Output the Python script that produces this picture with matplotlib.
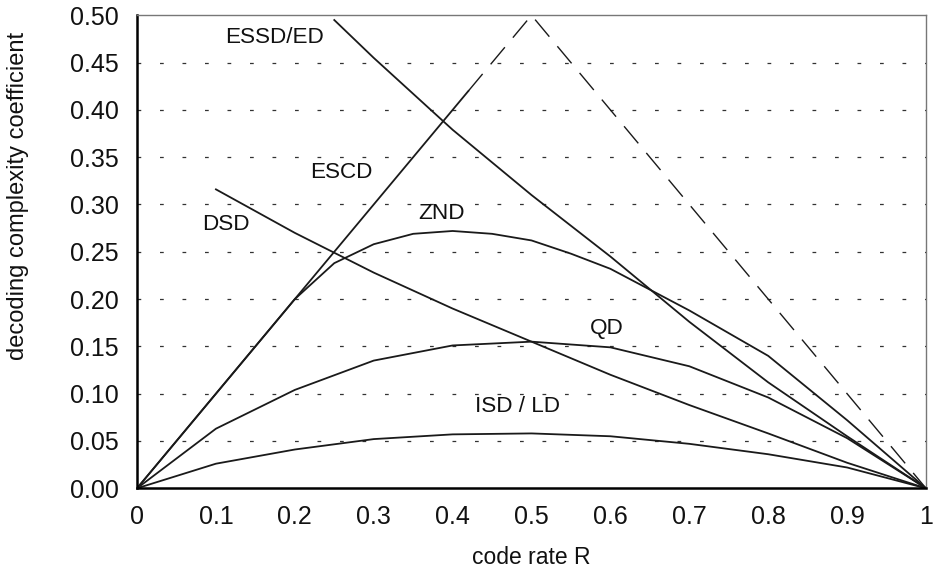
import matplotlib
matplotlib.use("Agg")
import matplotlib.pyplot as plt

# code rate R
rate = [0.0, 0.1, 0.2, 0.3, 0.4, 0.5, 0.6, 0.7, 0.8, 0.9, 1.0]

# decoding complexity coefficients
isd_ld = [0.0, 0.026, 0.041, 0.052, 0.057, 0.058, 0.055, 0.047, 0.036, 0.022, 0.0]
qd = [0.0, 0.063, 0.104, 0.135, 0.151, 0.155, 0.149, 0.129, 0.096, 0.053, 0.0]
dsd_x = [0.1, 0.2, 0.3, 0.4, 0.5, 0.6, 0.7, 0.8, 0.9, 1.0]
dsd = [0.316, 0.270, 0.228, 0.190, 0.155, 0.120, 0.088, 0.058, 0.027, 0.0]
znd_x = [0.0, 0.1, 0.2, 0.25, 0.3, 0.35, 0.4, 0.45, 0.5, 0.55, 0.6, 0.7, 0.8, 0.9, 1.0]
znd = [0.0, 0.1, 0.2, 0.238, 0.258, 0.269, 0.272, 0.269, 0.262, 0.248, 0.232, 0.188, 0.140, 0.072, 0.0]
essd_x = [0.25, 0.3, 0.4, 0.5, 0.6, 0.7, 0.8, 0.9, 1.0]
essd_ed = [0.495, 0.455, 0.379, 0.310, 0.245, 0.176, 0.112, 0.055, 0.0]
escd_x = [0.0, 0.42]
escd = [0.0, 0.42]
escd_ext_x = [0.42, 0.5, 1.0]
escd_ext = [0.42, 0.5, 0.0]

labels = ["ESSD/ED", "ESCD", "DSD", "ZND", "QD", "ISD / LD"]
label_x = [0.174, 0.259, 0.112, 0.386, 0.595, 0.482]
label_y = [0.477, 0.334, 0.279, 0.290, 0.169, 0.0865]

plt.rcParams['font.family'] = ['Liberation Sans', 'DejaVu Sans']

fig = plt.figure(figsize=(9.36, 5.75), dpi=100)
ax = fig.add_axes([0.1464, 0.1508, 0.8429, 0.8226])

lc = '#1a1a1a'
ax.plot(rate, isd_ld, color=lc, lw=1.3)
ax.plot(rate, qd, color=lc, lw=1.3)
ax.plot(dsd_x, dsd, color=lc, lw=1.3)
ax.plot(znd_x, znd, color=lc, lw=1.3)
ax.plot(essd_x, essd_ed, color=lc, lw=1.3)
ax.plot(escd_x, escd, color=lc, lw=1.3)
ax.plot(escd_ext_x, escd_ext, color=lc, lw=1.0, linestyle=(0, (16, 9)))

for t, x, y in zip(labels, label_x, label_y):
    ax.text(x, y, t, ha='center', va='center', fontsize=16.2, color='#111111')

ax.set_xlim(0, 1)
ax.set_ylim(0, 0.5)
ax.set_xticks(rate)
ax.set_xticklabels(['0', '0.1', '0.2', '0.3', '0.4', '0.5', '0.6', '0.7', '0.8', '0.9', '1'],
                   fontsize=18)
yt = [i * 0.05 for i in range(11)]
ax.set_yticks(yt)
ax.set_yticklabels([f'{v:.2f}' for v in yt], fontsize=18)
ax.tick_params(axis='both', length=0, colors='#111111')
ax.tick_params(axis='y', pad=13)
ax.tick_params(axis='x', pad=12)

for v in yt[1:-1]:
    ax.axhline(v, color='#333333', lw=0.9, linestyle=(0, (3, 15)), zorder=0)

ax.spines['left'].set_linewidth(1.8)
ax.spines['bottom'].set_linewidth(1.8)
ax.spines['top'].set_color('#777777')
ax.spines['right'].set_color('#777777')
ax.spines['top'].set_linewidth(1.0)
ax.spines['right'].set_linewidth(1.0)

# axis titles placed where the reference has them
fig.text(531 / 936, 1 - 558 / 575, 'code rate R', fontsize=16.5,
         ha='center', va='center', color='#111111')
fig.text(18 / 936, 1 - 196 / 575, 'decoding complexity coefficient', fontsize=17,
         ha='center', va='center', rotation=90, color='#111111')

fig.savefig('out.png', dpi=100)
